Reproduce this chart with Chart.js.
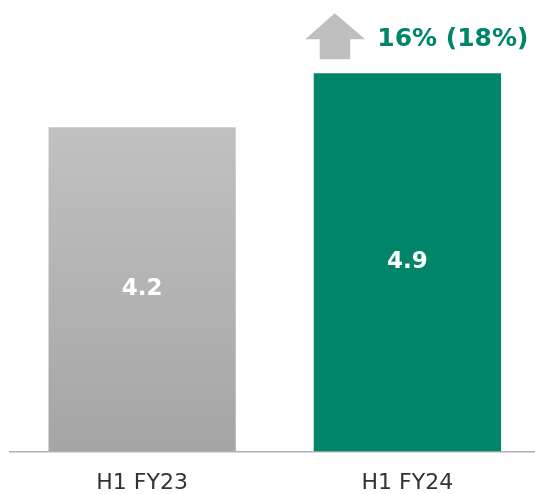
<!DOCTYPE html>
<html>
<head>
<meta charset="utf-8">
<title>H1 FY23 vs H1 FY24</title>
<script src="https://cdn.jsdelivr.net/npm/chart.js@4/dist/chart.umd.min.js"></script>
<style>
  html, body { margin: 0; padding: 0; background: #fff; overflow: hidden; }
  #wrap { width: 540px; height: 494px; }
</style>
</head>
<body>
<div id="wrap"><canvas id="chart" width="540" height="494"></canvas></div>
<script>
/* ─── Data ─── */
const PERIODS = ['H1 FY23', 'H1 FY24'];
const VALUES  = [4.2, 4.9];
const GROWTH_LABEL = '16% (18%)';

const GREEN = '#00856a';
const FONT  = "'DejaVu Sans', Verdana, sans-serif";

/* gray bar fades from light top to darker base, green bar is flat */
function barFill(ctx) {
  const chart = ctx.chart;
  if (ctx.dataIndex === 1) return GREEN;
  const area = chart.chartArea;
  if (!area) return '#b3b3b3';
  const y = chart.scales.y;
  const g = chart.ctx.createLinearGradient(0, y.getPixelForValue(VALUES[0]), 0, area.bottom);
  g.addColorStop(0, '#c1c1c1');
  g.addColorStop(1, '#a5a5a5');
  return g;
}

/* value printed in the middle of each bar */
const barValues = {
  id: 'barValues',
  afterDatasetsDraw(chart) {
    const { ctx } = chart;
    const meta = chart.getDatasetMeta(0);
    ctx.save();
    ctx.fillStyle = '#fff';
    ctx.font = `bold 23px ${FONT}`;
    ctx.textAlign = 'center';
    ctx.textBaseline = 'middle';
    meta.data.forEach((bar, i) => {
      ctx.fillText(VALUES[i].toFixed(1), bar.x, (bar.y + bar.base) / 2);
    });
    ctx.restore();
  }
};

/* up arrow + growth figure above the latest bar */
const growthBadge = {
  id: 'growthBadge',
  afterDatasetsDraw(chart) {
    const { ctx } = chart;
    const bar = chart.getDatasetMeta(0).data[1];
    const L = bar.x - bar.width / 2, T = bar.y;
    ctx.save();
    ctx.fillStyle = '#bfbfbf';
    ctx.beginPath();
    ctx.moveTo(L + 21, T - 60);
    ctx.lineTo(L + 51.5, T - 34);
    ctx.lineTo(L + 36.5, T - 34);
    ctx.lineTo(L + 36.5, T - 14);
    ctx.lineTo(L + 6, T - 14);
    ctx.lineTo(L + 6, T - 34);
    ctx.lineTo(L - 8.5, T - 34);
    ctx.closePath();
    ctx.fill();

    ctx.fillStyle = GREEN;
    ctx.font = `bold 25px ${FONT}`;
    ctx.textAlign = 'left';
    ctx.textBaseline = 'alphabetic';
    ctx.fillText(GROWTH_LABEL, L + 63.5, T - 27);
    ctx.restore();
  }
};

new Chart(document.getElementById('chart'), {
  type: 'bar',
  data: {
    labels: PERIODS,
    datasets: [{
      data: VALUES,
      backgroundColor: barFill,
      borderWidth: 0,
      categoryPercentage: 1,
      barPercentage: 0.706
    }]
  },
  options: {
    responsive: false,
    animation: false,
    devicePixelRatio: 1,
    layout: { padding: { left: 9.5, right: 0, top: 0, bottom: 0 } },
    plugins: { legend: { display: false }, tooltip: { enabled: false } },
    scales: {
      x: {
        grid: { display: false },
        border: { display: true, color: '#b3b3b3', width: 1.5 },
        ticks: { color: '#333', padding: 10.5, font: { family: FONT, size: 22 } },
        afterFit(scale) { scale.height = 42.5; }
      },
      y: { display: false, min: 0, max: 5.85 }
    }
  },
  plugins: [barValues, growthBadge]
});
</script>
</body>
</html>
